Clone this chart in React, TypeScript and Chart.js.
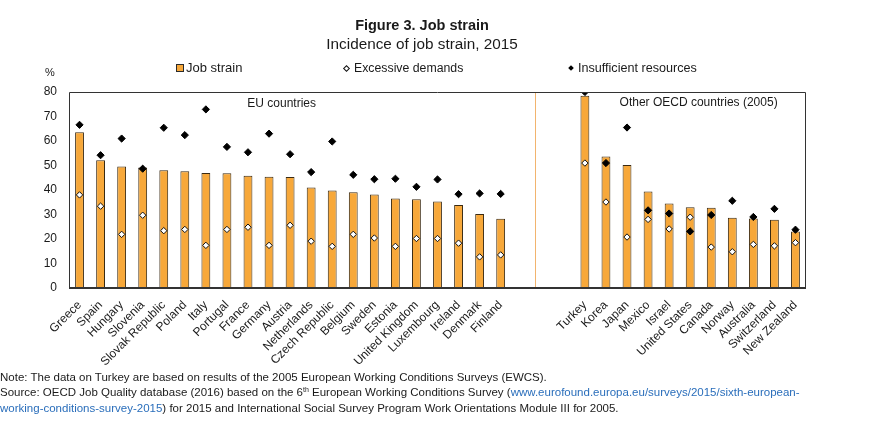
import React, { useEffect, useRef } from "react";
import { Chart, registerables } from "chart.js";

Chart.register(...registerables);

const categories: string[] = [
  "Greece", "Spain", "Hungary", "Slovenia", "Slovak Republic", "Poland", "Italy", "Portugal",
  "France", "Germany", "Austria", "Netherlands", "Czech Republic", "Belgium", "Sweden", "Estonia",
  "United Kingdom", "Luxembourg", "Ireland", "Denmark", "Finland",
  "", "", "",
  "Turkey", "Korea", "Japan", "Mexico", "Israel", "United States", "Canada", "Norway",
  "Australia", "Switzerland", "New Zealand",
];

const jobStrain: (number | null)[] = [
  63.6, 52.1, 49.6, 49.2, 48.1, 47.7, 46.9, 46.8, 45.8, 45.4, 45.3, 41.0, 39.8, 39.1, 38.2, 36.5,
  36.2, 35.3, 33.9, 30.2, 28.3,
  null, null, null,
  78.5, 53.7, 50.2, 39.4, 34.5, 33.0, 32.8, 28.7, 28.4, 27.9, 23.1,
];

const excessiveDemands: (number | null)[] = [
  38.0, 33.4, 21.9, 29.7, 23.4, 23.9, 17.4, 23.9, 24.8, 17.4, 25.6, 19.1, 17.0, 21.9, 20.4, 17.0,
  20.2, 20.2, 18.3, 12.7, 13.5,
  null, null, null,
  51.0, 35.1, 20.8, 28.0, 24.1, 28.9, 16.7, 14.8, 17.8, 17.2, 18.5,
];

const insufficientResources: (number | null)[] = [
  66.6, 54.2, 61.0, 48.7, 65.4, 62.4, 72.9, 57.6, 55.4, 63.0, 54.6, 47.3, 59.8, 46.2, 44.4, 44.6,
  41.3, 44.3, 38.3, 38.6, 38.4,
  null, null, null,
  80.0, 51.0, 65.5, 31.7, 30.4, 23.1, 29.8, 35.6, 29.0, 32.3, 23.8,
];

const yTicks = { min: 0, max: 80, step: 10 };

const groupLabels = ["EU countries", "Other OECD countries (2005)"];

const FONT = "'Liberation Sans', Arial, sans-serif";
const ORANGE = "#F7A83A";
const DARK = "#2b2b2b";

const framePlugin = {
  id: "frameAndNotes",
  beforeDatasetsDraw(chart: any) {
    const { ctx, chartArea, scales } = chart;
    const x = scales.x;
    const p0 = x.getPixelForValue(21);
    const p1 = x.getPixelForValue(22);
    const sx = p0 + (p1 - p0) * 0.63;
    ctx.save();
    ctx.strokeStyle = "#F2B46E";
    ctx.lineWidth = 1;
    ctx.beginPath();
    ctx.moveTo(Math.round(sx) + 0.5, chartArea.top);
    ctx.lineTo(Math.round(sx) + 0.5, chartArea.bottom);
    ctx.stroke();
    ctx.restore();
  },
  afterDatasetsDraw(chart: any) {
    const { ctx, chartArea, scales } = chart;
    const { left, right, top, bottom } = chartArea;
    ctx.save();
    ctx.strokeStyle = "#333333";
    ctx.lineWidth = 1;
    ctx.beginPath();
    ctx.moveTo(left + 0.5, bottom);
    ctx.lineTo(left + 0.5, top + 0.5);
    ctx.lineTo(right - 0.5, top + 0.5);
    ctx.lineTo(right - 0.5, bottom);
    ctx.stroke();
    ctx.lineWidth = 2;
    ctx.beginPath();
    ctx.moveTo(left, bottom);
    ctx.lineTo(right, bottom);
    ctx.stroke();

    const x = scales.x;
    const y = scales.y;
    const step = x.getPixelForValue(1) - x.getPixelForValue(0);
    ctx.fillStyle = "#1a1a1a";
    ctx.font = `12px ${FONT}`;
    ctx.textAlign = "center";
    ctx.textBaseline = "middle";
    ctx.fillText(groupLabels[0], x.getPixelForValue(9) + step * 0.6, y.getPixelForValue(75.4));
    ctx.fillText(groupLabels[1], x.getPixelForValue(29) + step * 0.4, y.getPixelForValue(75.6));
    ctx.restore();
  },
};

function ChartCanvas() {
  const ref = useRef<HTMLCanvasElement | null>(null);
  useEffect(() => {
    if (!ref.current) return;
    const chart = new Chart(ref.current, {
      type: "bar",
      data: {
        labels: categories,
        datasets: [
          {
            type: "line",
            label: "Excessive demands",
            data: excessiveDemands,
            showLine: false,
            pointStyle: "rectRot",
            pointRadius: 3.2,
            pointBackgroundColor: "#ffffff",
            pointBorderColor: "#111111",
            pointBorderWidth: 1,
            order: 1,
          } as any,
          {
            type: "line",
            label: "Insufficient resources",
            data: insufficientResources,
            showLine: false,
            pointStyle: "rectRot",
            pointRadius: 3.6,
            pointBackgroundColor: "#000000",
            pointBorderColor: "#000000",
            pointBorderWidth: 1,
            order: 2,
          } as any,
          {
            type: "bar",
            label: "Job strain",
            data: jobStrain,
            backgroundColor: ORANGE,
            borderColor: "#3a2a12",
            borderWidth: 1,
            barPercentage: 0.42,
            categoryPercentage: 1,
            order: 3,
          },
        ],
      },
      options: {
        animation: false,
        responsive: false,
        maintainAspectRatio: false,
        layout: { padding: { top: 92, right: 78, left: 0, bottom: 0 } },
        plugins: {
          legend: { display: false },
          tooltip: { enabled: false },
          title: { display: false },
        },
        scales: {
          x: {
            offset: true,
            grid: { display: false },
            border: { display: false },
            ticks: {
              autoSkip: false,
              minRotation: 45,
              maxRotation: 45,
              color: "#1a1a1a",
              font: { family: FONT, size: 12 },
              padding: 2,
            },
            afterFit(scale: any) {
              scale.height = 138;
            },
          },
          y: {
            min: yTicks.min,
            max: yTicks.max,
            grid: { display: false, drawTicks: false },
            border: { display: false },
            ticks: {
              stepSize: yTicks.step,
              color: "#1a1a1a",
              font: { family: FONT, size: 12 },
              padding: 12,
            },
            afterFit(scale: any) {
              scale.width = 69;
            },
          },
        },
      },
      plugins: [framePlugin],
    });
    return () => chart.destroy();
  }, []);
  return <canvas ref={ref} width={884} height={426} style={{ position: "absolute", left: 0, top: 0, width: 884, height: 426 }} />;
}

export default function App() {
  const textStyle: React.CSSProperties = { fontFamily: FONT, color: "#1a1a1a", position: "absolute", whiteSpace: "nowrap" };
  const link: React.CSSProperties = { color: "#2a6ebb" };
  return (
    <div style={{ position: "fixed", left: 0, top: 0, width: 884, height: 426, background: "#fff", overflow: "hidden" }}>
      <ChartCanvas />
      <div style={{ ...textStyle, left: 0, width: 844, top: 16, textAlign: "center", fontSize: 14.5, fontWeight: "bold", lineHeight: "18px" }}>
        Figure 3. Job strain
      </div>
      <div style={{ ...textStyle, left: 0, width: 844, top: 35, textAlign: "center", fontSize: 15.3, lineHeight: "18px" }}>
        Incidence of job strain, 2015
      </div>
      <div style={{ ...textStyle, left: 45, top: 65, fontSize: 11, lineHeight: "14px" }}>%</div>
      <div style={{ ...textStyle, left: 176, top: 60, fontSize: 13, lineHeight: "16px", display: "flex", alignItems: "center" }}>
        <span style={{ display: "inline-block", width: 6, height: 6, background: ORANGE, border: `1px solid ${DARK}`, marginRight: 2 }} />
        Job strain
      </div>
      <div style={{ ...textStyle, left: 344, top: 60, fontSize: 12.3, lineHeight: "16px", display: "flex", alignItems: "center" }}>
        <span style={{ display: "inline-block", width: 3, height: 3, background: "#fff", border: "1px solid #111", transform: "rotate(45deg)", marginRight: 5 }} />
        Excessive demands
      </div>
      <div style={{ ...textStyle, left: 569, top: 60, fontSize: 12.6, lineHeight: "16px", display: "flex", alignItems: "center" }}>
        <span style={{ display: "inline-block", width: 4, height: 4, background: "#000", transform: "rotate(45deg)", marginRight: 5 }} />
        Insufficient resources
      </div>
      <div style={{ ...textStyle, left: 0, top: 370, fontSize: 11.5, lineHeight: "15px" }}>
        Note: The data on Turkey are based on results of the 2005 European Working Conditions Surveys (EWCS).
        <br />
        Source: OECD Job Quality database (2016) based on the 6<span style={{ fontSize: 7, position: "relative", top: -4 }}>th</span> European Working Conditions Survey (
        <span style={link}>www.eurofound.europa.eu/surveys/2015/sixth-european-</span>
        <br />
        <span style={link}>working-conditions-survey-2015</span>) for 2015 and International Social Survey Program Work Orientations Module III for 2005.
      </div>
    </div>
  );
}
